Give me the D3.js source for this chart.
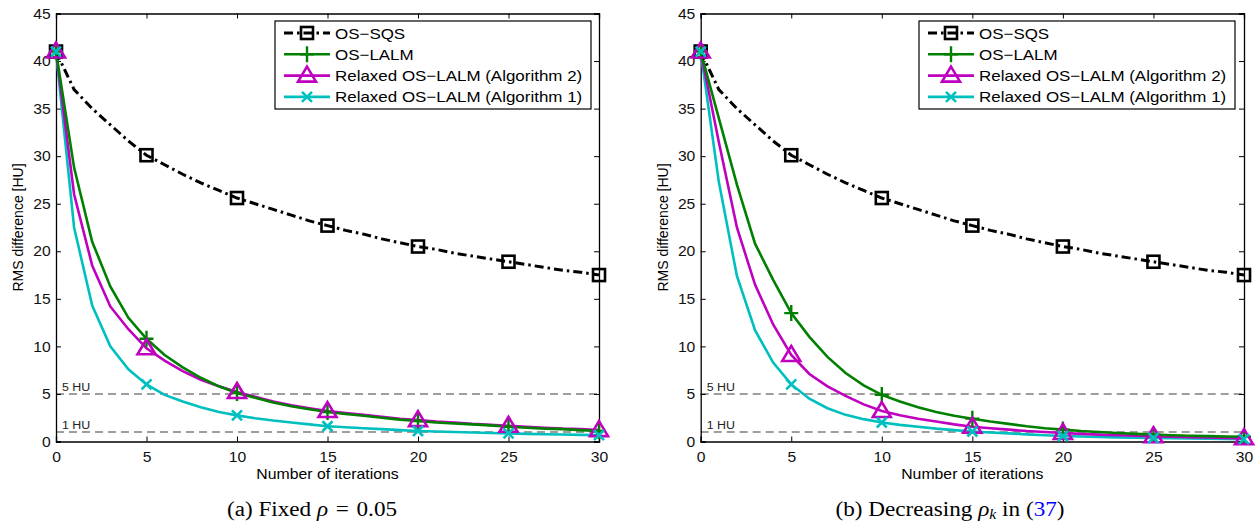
<!DOCTYPE html>
<html>
<head>
<meta charset="utf-8">
<script src="https://cdn.jsdelivr.net/npm/d3@7"></script>
<style>
  body { margin: 0; background: #fff; }
  svg { display: block; }
</style>
</head>
<body>
<svg width="1257" height="524"></svg>
<script>
// iterations 0..30
const iters = d3.range(0, 31);

// OS-SQS (same in both panels)
const sqs = [41, 37.0, 35.0, 33.3, 31.6, 30.1, 29.1, 28.1, 27.2, 26.4, 25.6, 25.0, 24.4, 23.8, 23.2, 22.7,
  22.2, 21.8, 21.3, 20.9, 20.5, 20.2, 19.8, 19.5, 19.2, 18.9, 18.6, 18.3, 18.0, 17.8, 17.5];

// (a) fixed rho
const lalmA = [41, 28.8, 21.0, 16.3, 13.0, 10.8, 9.1, 7.8, 6.7, 5.8, 5.1, 4.6, 4.1, 3.7, 3.4, 3.1,
  2.9, 2.7, 2.5, 2.3, 2.15, 2.0, 1.9, 1.8, 1.7, 1.55, 1.45, 1.35, 1.3, 1.2, 1.1];
const alg2A = [41, 26.0, 18.5, 14.2, 11.8, 9.8, 8.5, 7.4, 6.5, 5.8, 5.2, 4.7, 4.2, 3.8, 3.5, 3.2,
  3.0, 2.8, 2.6, 2.4, 2.25, 2.1, 2.0, 1.85, 1.75, 1.65, 1.55, 1.45, 1.35, 1.3, 1.2];
const alg1A = [41, 22.5, 14.3, 10.0, 7.6, 6.0, 4.9, 4.2, 3.6, 3.1, 2.75, 2.45, 2.2, 2.0, 1.8, 1.6,
  1.5, 1.4, 1.3, 1.2, 1.1, 1.05, 1.0, 0.95, 0.9, 0.85, 0.8, 0.77, 0.73, 0.7, 0.67];

// (b) decreasing rho_k
const lalmB = [41, 34.0, 27.0, 20.8, 17.0, 13.5, 11.0, 8.9, 7.2, 5.9, 4.9, 4.2, 3.6, 3.1, 2.7, 2.4,
  2.1, 1.85, 1.6, 1.4, 1.25, 1.1, 1.0, 0.9, 0.8, 0.72, 0.66, 0.6, 0.56, 0.52, 0.5];
const alg2B = [41, 31.5, 22.5, 16.5, 12.3, 9.1, 7.1, 5.8, 4.8, 3.9, 3.2, 2.75, 2.4, 2.1, 1.8, 1.55,
  1.4, 1.25, 1.1, 1.0, 0.9, 0.8, 0.72, 0.66, 0.6, 0.55, 0.5, 0.45, 0.42, 0.38, 0.35];
const alg1B = [41, 27.3, 17.4, 11.7, 8.3, 6.0, 4.5, 3.5, 2.8, 2.35, 2.0, 1.75, 1.55, 1.35, 1.2, 1.05,
  0.95, 0.85, 0.75, 0.65, 0.58, 0.52, 0.47, 0.43, 0.4, 0.37, 0.34, 0.31, 0.29, 0.27, 0.25];

const xTicks = [0, 5, 10, 15, 20, 25, 30];
const yTicks = [0, 5, 10, 15, 20, 25, 30, 35, 40, 45];
const refLines = [5, 1];
const refLabels = ["5 HU", "1 HU"];

const names = ["OS\u2212SQS", "OS\u2212LALM", "Relaxed OS\u2212LALM (Algorithm 2)", "Relaxed OS\u2212LALM (Algorithm 1)"];
const colors = ["#000000", "#008000", "#bf00bf", "#00bfbf"];
const markers = ["square", "plus", "triangle", "cross"];

const svg = d3.select("svg");
const font = "'Liberation Sans', Arial, sans-serif";
const sx = 1.13; // the original figure is a bit wider than tall

// horizontal text, slightly stretched like the source figure
function label(parent, x, y, str, size, anchor) {
  return parent.append("text")
    .attr("transform", `translate(${x},${y}) scale(${sx},1)`)
    .attr("text-anchor", anchor || "start")
    .attr("font-family", font).attr("font-size", size).text(str);
}

function drawMarker(g, type, cx, cy, color) {
  if (type === "square") {
    g.append("rect").attr("x", cx - 6).attr("y", cy - 6).attr("width", 12).attr("height", 12)
      .attr("fill", "none").attr("stroke", color).attr("stroke-width", 2.6);
  } else if (type === "plus") {
    g.append("path").attr("d", `M${cx - 7},${cy}H${cx + 7}M${cx},${cy - 8}V${cy + 8}`)
      .attr("stroke", color).attr("stroke-width", 2.4).attr("fill", "none");
  } else if (type === "triangle") {
    g.append("path").attr("d", `M${cx},${cy - 9}L${cx + 9},${cy + 6}L${cx - 9},${cy + 6}Z`)
      .attr("stroke", color).attr("stroke-width", 2.6).attr("fill", "none");
  } else {
    g.append("path").attr("d", `M${cx - 5},${cy - 5}L${cx + 5},${cy + 5}M${cx - 5},${cy + 5}L${cx + 5},${cy - 5}`)
      .attr("stroke", color).attr("stroke-width", 2.6).attr("fill", "none");
  }
}

function drawPanel(left, right, series, legendX) {
  const top = 13.5, bottom = 441.5;
  const x = d3.scaleLinear().domain([0, 30]).range([left, right]);
  const y = d3.scaleLinear().domain([0, 45]).range([bottom, top]);
  const g = svg.append("g");

  // reference lines
  refLines.forEach((v, i) => {
    g.append("line").attr("x1", x(0)).attr("x2", x(30)).attr("y1", y(v)).attr("y2", y(v))
      .attr("stroke", "#7f7f7f").attr("stroke-width", 1.5).attr("stroke-dasharray", "8,5");
    label(g, x(0) + 6, y(v) - 3, refLabels[i], 11).attr("fill", "#222");
  });

  // axes (MATLAB style box, ticks inward)
  const axB = g.append("g").attr("transform", `translate(0,${bottom})`)
    .call(d3.axisBottom(x).tickValues(xTicks).tickSize(-5).tickPadding(10));
  const axT = g.append("g").attr("transform", `translate(0,${top})`)
    .call(d3.axisTop(x).tickValues(xTicks).tickSize(-5).tickFormat(""));
  const axL = g.append("g").attr("transform", `translate(${left},0)`)
    .call(d3.axisLeft(y).tickValues(yTicks).tickSize(-5).tickPadding(5));
  const axR = g.append("g").attr("transform", `translate(${right},0)`)
    .call(d3.axisRight(y).tickValues(yTicks).tickSize(-5).tickFormat(""));
  [axB, axT, axL, axR].forEach(a => {
    a.select(".domain").attr("stroke", "#000").attr("stroke-width", 1.3);
    a.selectAll(".tick line").attr("stroke", "#000").attr("stroke-width", 1);
    a.selectAll("text").attr("font-family", font).attr("font-size", 14.5).attr("fill", "#111")
      .attr("transform", "scale(1.08,1)");
  });

  // series lines
  const line = d3.line().x((d, i) => x(iters[i])).y(d => y(d));
  series.slice().reverse().forEach((s, ri) => {
    const k = series.length - 1 - ri;
    const p = g.append("path").datum(s).attr("d", line).attr("fill", "none")
      .attr("stroke", colors[k]).attr("stroke-width", k === 0 ? 3 : 2.6);
    if (k === 0) p.attr("stroke-dasharray", "9,4,2.5,4");
  });
  series.forEach((s, k) => {
    iters.filter(i => i % 5 === 0).forEach(i => drawMarker(g, markers[k], x(i), y(s[i]), colors[k]));
  });

  // axis labels
  label(g, (left + right) / 2, 479, "Number of iterations", 14, "middle");
  g.append("text").attr("transform", `translate(${left - 33},${(top + bottom) / 2}) rotate(-90)`)
    .attr("text-anchor", "middle").attr("font-family", font).attr("font-size", 14)
    .text("RMS difference [HU]");

  // legend
  const lg = g.append("g");
  lg.append("rect").attr("x", legendX).attr("y", 21).attr("width", 316).attr("height", 88)
    .attr("fill", "#fff").attr("stroke", "#000").attr("stroke-width", 1.2);
  names.forEach((n, k) => {
    const ly = 33 + k * 21.3;
    const ln = lg.append("line").attr("x1", legendX + 9).attr("x2", legendX + 55)
      .attr("y1", ly).attr("y2", ly).attr("stroke", colors[k]).attr("stroke-width", k === 0 ? 3 : 2.6);
    if (k === 0) ln.attr("stroke-dasharray", "9,4,2.5,4");
    drawMarker(lg, markers[k], legendX + 32, ly, colors[k]);
    label(lg, legendX + 60, ly + 5.5, n, 15).attr("fill", "#000");
  });
}

drawPanel(56, 599, [sqs, lalmA, alg2A, alg1A], 275);
drawPanel(700.7, 1244, [sqs, lalmB, alg2B, alg1B], 919);

// captions
const serif = "'Liberation Serif', 'Times New Roman', serif";
function caption(cx) {
  return svg.append("text").attr("transform", `translate(${cx},516) scale(${sx},1)`)
    .attr("text-anchor", "middle").attr("font-family", serif).attr("font-size", 20.5);
}
const capA = caption(312);
capA.append("tspan").text("(a)  Fixed ");
capA.append("tspan").attr("font-style", "italic").text("\u03c1");
capA.append("tspan").text("\u2004=\u20040.05");

const capB = caption(950);
capB.append("tspan").text("(b)  Decreasing ");
capB.append("tspan").attr("font-style", "italic").text("\u03c1");
capB.append("tspan").attr("font-style", "italic").attr("font-size", 14).attr("dy", 3).text("k");
capB.append("tspan").attr("dy", -3).text(" in (");
capB.append("tspan").attr("fill", "#0000ff").text("37");
capB.append("tspan").text(")");
</script>
</body>
</html>
